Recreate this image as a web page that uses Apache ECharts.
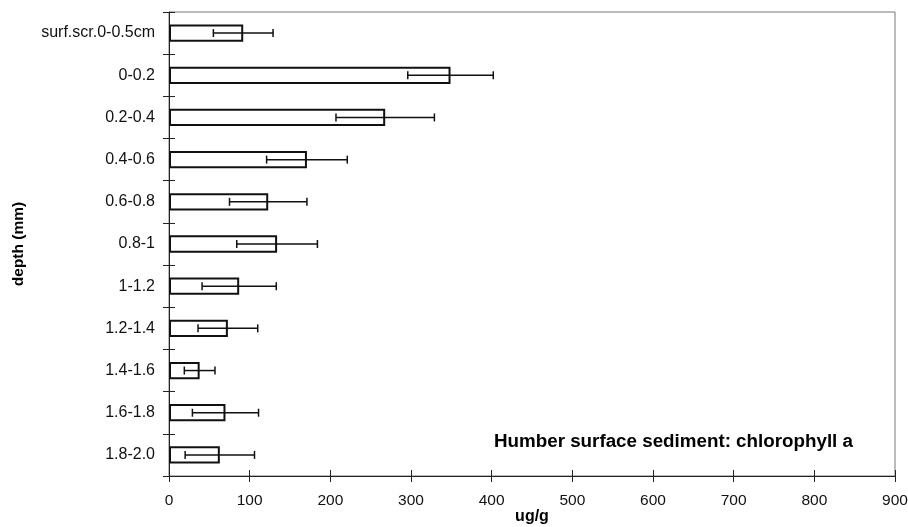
<!DOCTYPE html>
<html>
<head>
<meta charset="utf-8">
<script src="https://cdn.jsdelivr.net/npm/echarts@6/dist/echarts.min.js"></script>
<style>
  html, body { margin: 0; padding: 0; background: #fff; }
  #chart { width: 908px; height: 527px; }
</style>
</head>
<body>
<div id="chart"></div>
<script>
// Depth slices of the sediment core, top to bottom
const depths = ['surf.scr.0-0.5cm', '0-0.2', '0.2-0.4', '0.4-0.6', '0.6-0.8', '0.8-1',
  '1-1.2', '1.2-1.4', '1.4-1.6', '1.6-1.8', '1.8-2.0'];
// Mean chlorophyll a concentration (ug/g)
const chlMean = [92, 349, 268, 171, 123, 134, 87, 73, 38, 70, 63];
// Error bar half-width (ug/g)
const chlErr = [37, 53, 61, 50, 48, 50, 46, 37, 19, 41, 43];
const xTicks = { min: 0, max: 900, interval: 100 };

const font = 'Liberation Sans, Arial, sans-serif';
const chart = echarts.init(document.getElementById('chart'));

const errData = depths.map((d, i) => [i, chlMean[i] - chlErr[i], chlMean[i] + chlErr[i]]);

chart.setOption({
  animation: false,
  grid: {
    left: 169, right: 13, top: 12, bottom: 51,
    outerBoundsMode: 'none', containLabel: false,
    show: true, borderColor: '#777', borderWidth: 1, backgroundColor: 'transparent'
  },
  xAxis: [{
    type: 'value', min: xTicks.min, max: xTicks.max, interval: xTicks.interval,
    name: 'ug/g', nameLocation: 'middle', nameGap: 33, nameMoveOverlap: false,
    nameTextStyle: { fontFamily: font, fontWeight: 'bold', fontSize: 16, color: '#000' },
    axisLine: { show: true, lineStyle: { color: '#222', width: 1 } },
    axisTick: { show: true, length: 6, lineStyle: { color: '#222' } },
    axisLabel: { fontFamily: font, fontSize: 15.5, color: '#111', margin: 17 },
    splitLine: { show: false }
  }, {
    type: 'value', min: xTicks.min, max: xTicks.max, interval: xTicks.interval,
    position: 'bottom',
    axisLine: { show: false },
    axisTick: { show: true, inside: true, length: 6, lineStyle: { color: '#222' } },
    axisLabel: { show: false }, splitLine: { show: false }
  }],
  yAxis: [{
    type: 'category', data: depths, inverse: true,
    name: 'depth (mm)', nameLocation: 'middle', nameGap: 142, nameRotate: 90, nameMoveOverlap: false,
    nameTextStyle: { fontFamily: font, fontWeight: 'bold', fontSize: 15.5, color: '#000' },
    axisLine: { show: true, lineStyle: { color: '#222', width: 1 } },
    axisTick: { show: true, length: 6, lineStyle: { color: '#222' } },
    axisLabel: { fontFamily: font, fontSize: 16, color: '#111', margin: 14 },
    splitLine: { show: false }
  }, {
    type: 'category', data: depths, inverse: true, position: 'left',
    axisLine: { show: false },
    axisTick: { show: true, inside: true, length: 6, lineStyle: { color: '#222' } },
    axisLabel: { show: false }, splitLine: { show: false }
  }],
  graphic: [{
    type: 'text', right: 55, top: 432,
    style: {
      text: 'Humber surface sediment: chlorophyll a',
      fontFamily: font, fontWeight: 'bold', fontSize: 18.8, fill: '#000'
    }
  }],
  series: [{
    type: 'bar', data: chlMean, barWidth: '41%',
    itemStyle: { color: '#fff', borderColor: '#111', borderWidth: 2 },
    silent: true
  }, {
    type: 'custom', data: errData, silent: true, z: 3,
    renderItem: function (params, api) {
      const cat = api.value(0);
      const lo = api.coord([api.value(1), cat]);
      const hi = api.coord([api.value(2), cat]);
      const cap = 4;
      const style = { stroke: '#111', lineWidth: 1.5 };
      return {
        type: 'group',
        children: [
          { type: 'line', shape: { x1: lo[0], y1: lo[1], x2: hi[0], y2: hi[1] }, style: style },
          { type: 'line', shape: { x1: lo[0], y1: lo[1] - cap, x2: lo[0], y2: lo[1] + cap }, style: style },
          { type: 'line', shape: { x1: hi[0], y1: hi[1] - cap, x2: hi[0], y2: hi[1] + cap }, style: style }
        ]
      };
    }
  }]
});
</script>
</body>
</html>
